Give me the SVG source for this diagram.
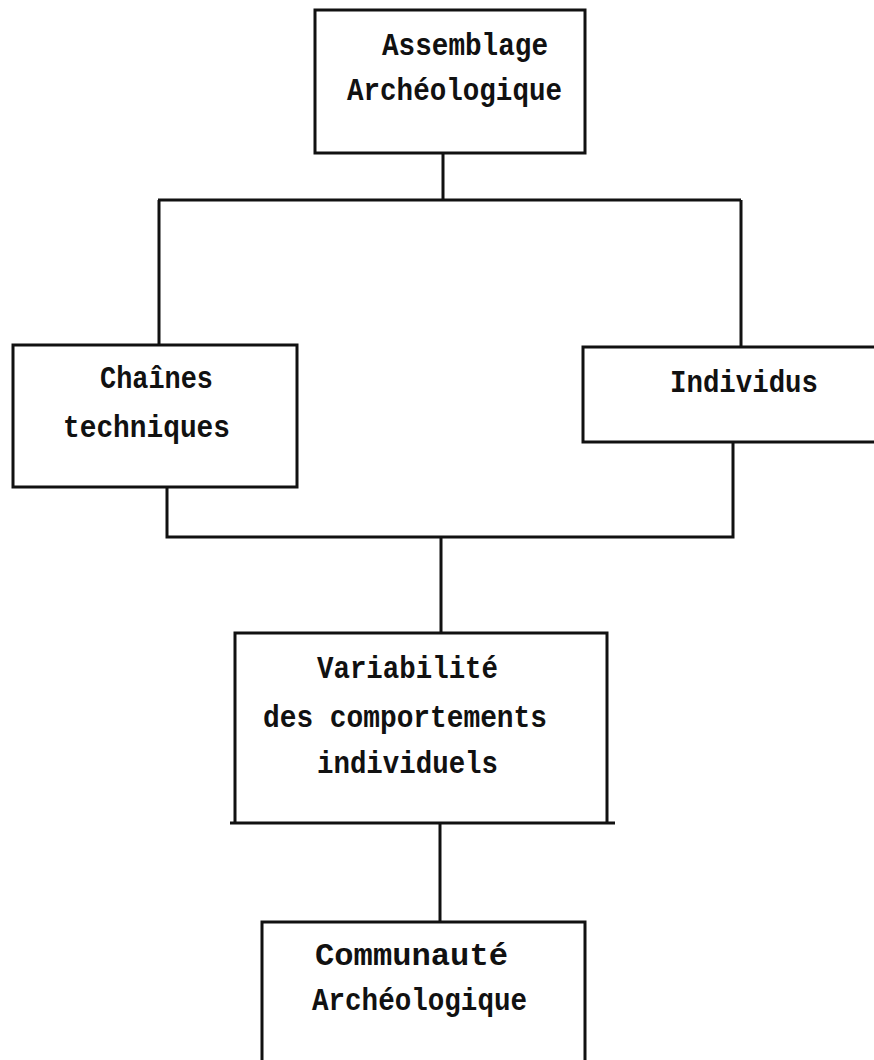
<svg xmlns="http://www.w3.org/2000/svg" width="874" height="1060" viewBox="0 0 874 1060">
<style>
.box{fill:none;stroke:#111;stroke-width:3}
.ln{fill:none;stroke:#111;stroke-width:3}
text{font-family:"Liberation Mono","DejaVu Sans Mono",monospace;font-weight:bold;font-size:31px;fill:#111}
</style>
<rect width="874" height="1060" fill="#ffffff"/>
<g id="connectors">
<path class="ln" d="M443 153V200M158 200H741M159 200V345M741 200V347"/>
<path class="ln" d="M167 487V537H733V442M441 537V633"/>
<path class="ln" d="M440 823V922"/>
</g>
<g id="assemblage">
<rect class="box" x="315" y="10" width="270" height="143"/>
<text x="382" y="55" textLength="166" lengthAdjust="spacingAndGlyphs">Assemblage</text>
<text x="347" y="100" textLength="215" lengthAdjust="spacingAndGlyphs">Archéologique</text>
</g>
<g id="chaines">
<rect class="box" x="13" y="345" width="284" height="142"/>
<text x="100" y="388" textLength="113" lengthAdjust="spacingAndGlyphs">Chaînes</text>
<text x="63" y="437" textLength="167" lengthAdjust="spacingAndGlyphs">techniques</text>
</g>
<g id="individus">
<path class="box" d="M890 347H583V442H890"/>
<text x="670" y="392" textLength="148" lengthAdjust="spacingAndGlyphs">Individus</text>
</g>
<g id="variabilite">
<path class="box" d="M235 823V633H607V823M230 823H615"/>
<text x="317" y="678" textLength="181" lengthAdjust="spacingAndGlyphs">Variabilité</text>
<text x="263" y="727" textLength="284" lengthAdjust="spacingAndGlyphs">des comportements</text>
<text x="317" y="773" textLength="181" lengthAdjust="spacingAndGlyphs">individuels</text>
</g>
<g id="communaute">
<path class="box" d="M262 1070V922H585V1070"/>
<text x="315" y="965" textLength="193" lengthAdjust="spacingAndGlyphs">Communauté</text>
<text x="312" y="1010" textLength="215" lengthAdjust="spacingAndGlyphs">Archéologique</text>
</g>
</svg>
